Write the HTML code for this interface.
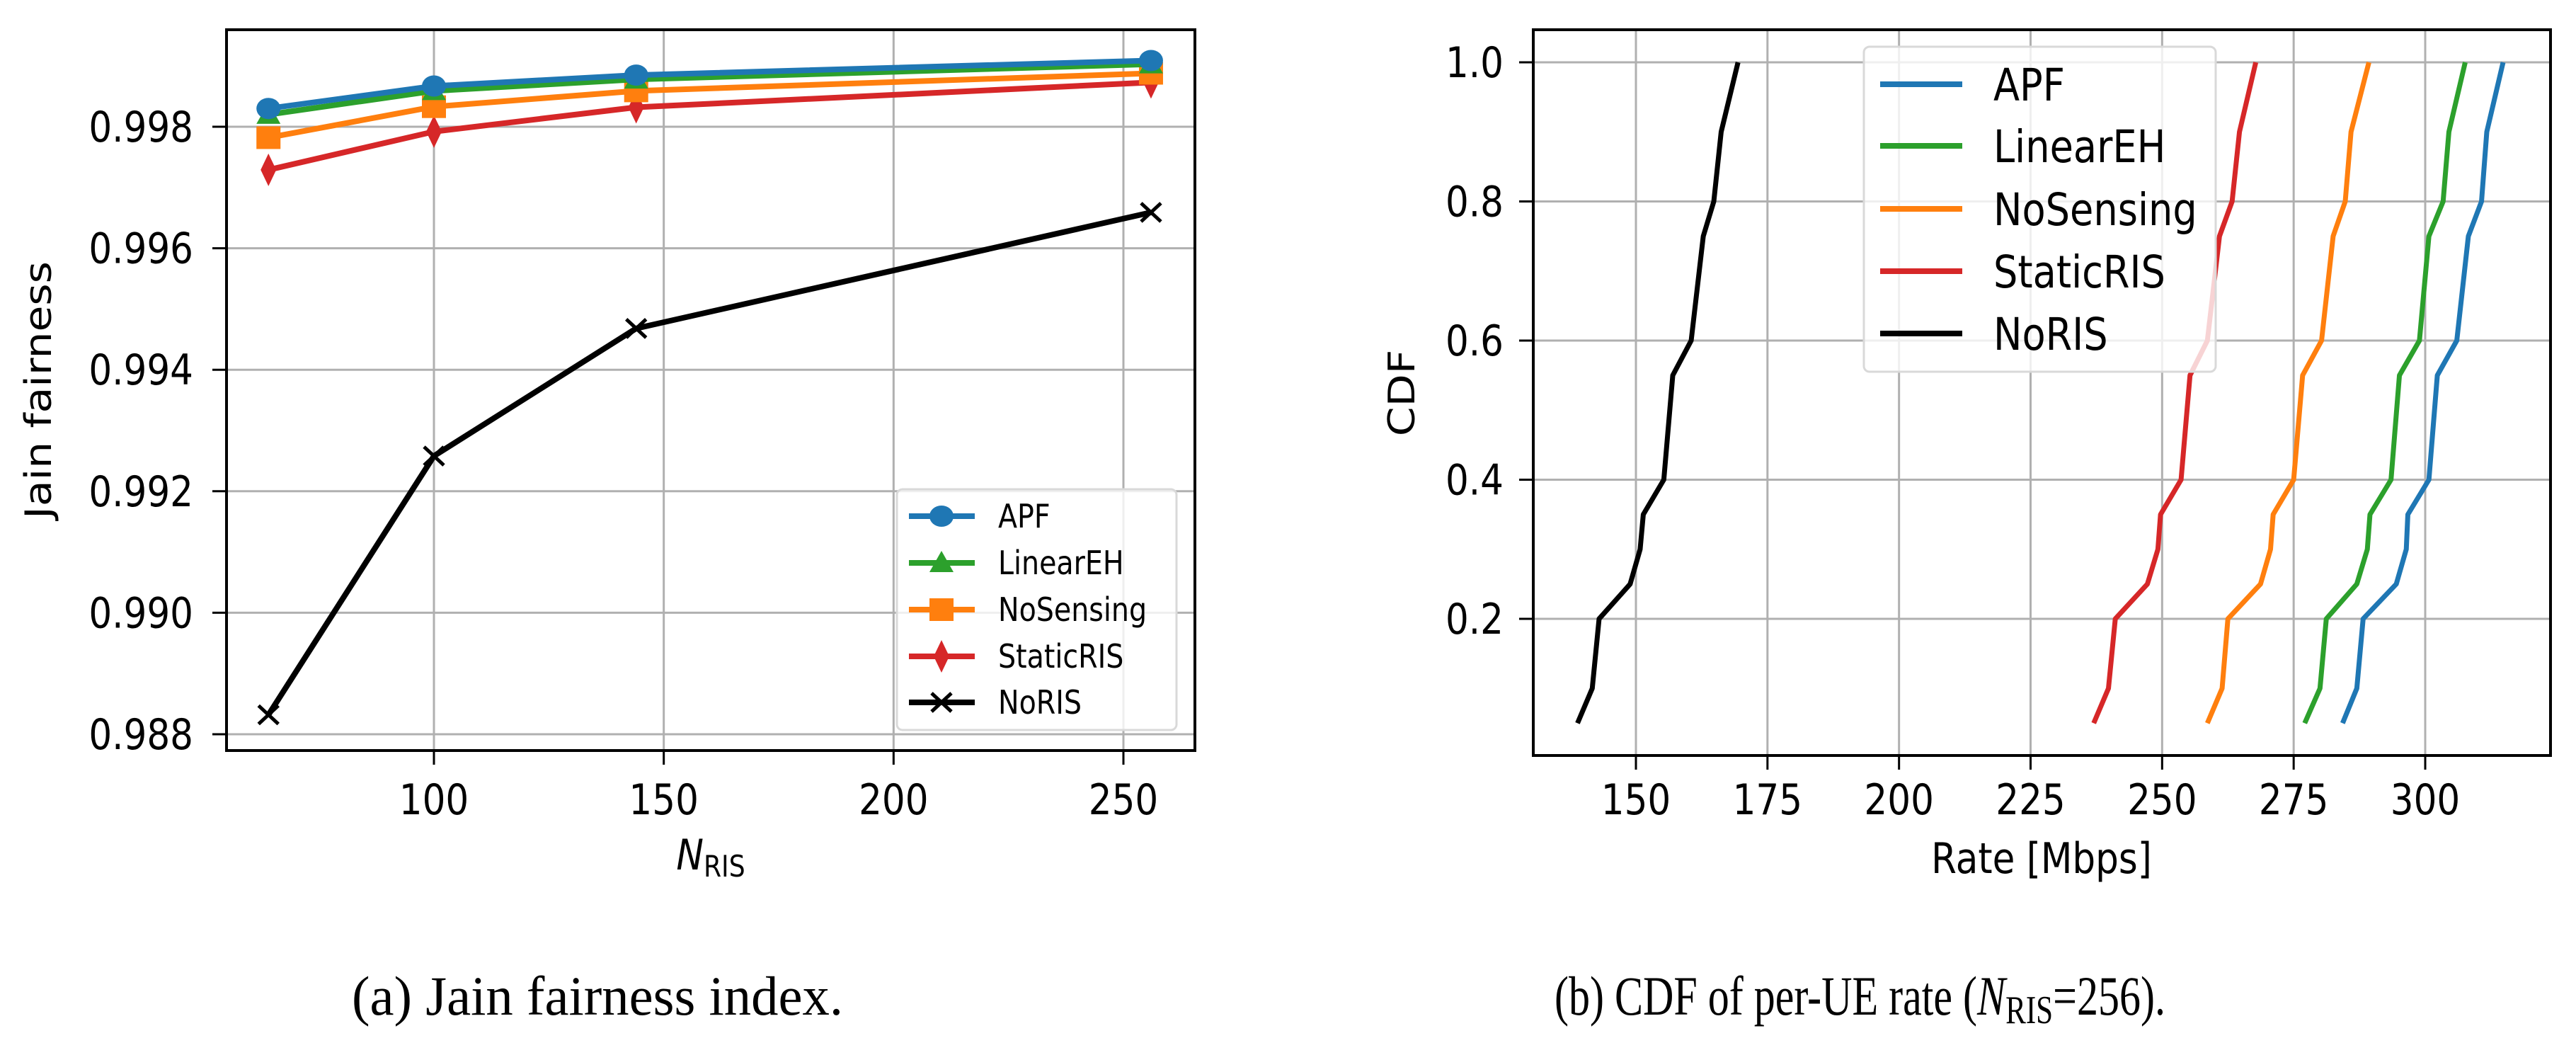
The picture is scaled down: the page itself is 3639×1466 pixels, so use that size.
<!DOCTYPE html>
<html><head><meta charset="utf-8"><style>
html,body{margin:0;padding:0;background:#fff;}
svg{display:block;}
text{font-family:"DejaVu Sans","Liberation Sans",sans-serif;fill:#000;}
.cap{font-family:"Liberation Serif",serif;}
</style></head><body>
<svg id="fig" width="3639" height="1466" viewBox="0 0 3639 1466" xmlns="http://www.w3.org/2000/svg">
<g id="left"></g>
<g id="right"></g>
<text class="cap" x="497" y="1433" font-size="78" textLength="694" lengthAdjust="spacingAndGlyphs">(a) Jain fairness index.</text>
<text class="cap" x="2196" y="1433" font-size="78" textLength="863" lengthAdjust="spacingAndGlyphs">(b) CDF of per-UE rate (<tspan font-style="italic">N</tspan><tspan font-size="56" dy="12">RIS</tspan><tspan dy="-12">=256).</tspan></text>
</svg>
<script>
// ---- Left chart data ----
const nRis = [64, 100, 144, 256];
const apfJain = [0.9983, 0.99867, 0.99885, 0.99909];
const linearJain = [0.9982, 0.99859, 0.99878, 0.99903];
const noSensJain = [0.99782, 0.99833, 0.99859, 0.99888];
const staticJain = [0.99729, 0.99792, 0.99832, 0.99873];
const noRisJain = [0.98832, 0.99258, 0.99468, 0.99659];
const leftXTicks = [100, 150, 200, 250];
const leftYTicks = [0.988, 0.990, 0.992, 0.994, 0.996, 0.998];
const leftYTickLabels = ["0.988", "0.990", "0.992", "0.994", "0.996", "0.998"];
const seriesNames = ["APF", "LinearEH", "NoSensing", "StaticRIS", "NoRIS"];
// ---- Right chart data ----
const cdfLevels = [0.05, 0.1, 0.2, 0.25, 0.3, 0.35, 0.4, 0.55, 0.6, 0.75, 0.8, 0.9, 1.0];
const apfRate = [284.3, 287.0, 288.2, 294.5, 296.4, 296.7, 300.7, 302.3, 306.0, 308.2, 310.7, 311.7, 314.8];
const linearRate = [277.1, 280.0, 281.2, 287.0, 289.0, 289.5, 293.5, 295.1, 298.9, 300.7, 303.4, 304.5, 307.6];
const noSensRate = [258.6, 261.4, 262.5, 268.7, 270.6, 271.1, 275.0, 276.7, 280.3, 282.5, 284.8, 285.9, 289.3];
const staticRate = [237.0, 239.8, 241.1, 247.2, 249.2, 249.7, 253.6, 255.3, 258.6, 260.9, 263.3, 264.7, 267.8];
const noRisRate = [138.9, 141.7, 143.0, 148.9, 150.8, 151.4, 155.3, 157.0, 160.5, 162.8, 164.8, 166.2, 169.4];
const rightXTicks = [150, 175, 200, 225, 250, 275, 300];
const rightYTicks = [0.2, 0.4, 0.6, 0.8, 1.0];
const rightYTickLabels = ["0.2", "0.4", "0.6", "0.8", "1.0"];

const NS = "http://www.w3.org/2000/svg";
const colors = ["#1f77b4", "#2ca02c", "#ff7f0e", "#d62728", "#000000"];
function mk(parent, tag, attrs) {
  const e = document.createElementNS(NS, tag);
  for (const k in attrs) e.setAttribute(k, attrs[k]);
  parent.appendChild(e);
  return e;
}
function txt(parent, x, y, s, size, anchor, sx) {
  const t = mk(parent, "text", {transform: `translate(${x},${y}) scale(${sx||0.86},1)`, "font-size": size, "text-anchor": anchor || "middle"});
  t.textContent = s;
  return t;
}

// ---------- LEFT ----------
const L = document.getElementById("left");
const lx = v => 613 + (v - 100) * (1587 - 613) / 150;
const ly = v => 179 + (0.998 - v) * 85800;
const LB = {l: 320, r: 1688, t: 42, b: 1060};
leftXTicks.forEach(v => {
  const g = mk(L, "line", {x1: lx(v), x2: lx(v), y1: LB.t, y2: LB.b, stroke: "#b0b0b0", "stroke-width": 3});
  
  
  mk(L, "line", {x1: lx(v), x2: lx(v), y1: LB.b, y2: LB.b + 20, stroke: "#000", "stroke-width": 3});
  const t = txt(L, lx(v), 1150, String(v), 60);
  
  
});
leftYTicks.forEach((v, i) => {
  const g = mk(L, "line", {x1: LB.l, x2: LB.r, y1: ly(v), y2: ly(v), stroke: "#b0b0b0", "stroke-width": 3});
  
  
  mk(L, "line", {x1: LB.l - 20, x2: LB.l, y1: ly(v), y2: ly(v), stroke: "#000", "stroke-width": 3});
  const t = txt(L, 273, ly(v) + 21, leftYTickLabels[i], 60, "end");
  
  
});
const leftSeries = [apfJain, linearJain, noSensJain, staticJain, noRisJain];
function marker(parent, kind, x, y, c) {
  let m;
  if (kind === 0) m = mk(parent, "ellipse", {cx: x, cy: y, rx: 17, ry: 15, fill: c});
  else if (kind === 1) m = mk(parent, "polygon", {points: `${x},${y-17} ${x+17},${y+13} ${x-17},${y+13}`, fill: c});
  else if (kind === 2) m = mk(parent, "rect", {x: x - 17, y: y - 16, width: 34, height: 32, fill: c});
  else if (kind === 3) m = mk(parent, "polygon", {points: `${x},${y-23} ${x+11},${y} ${x},${y+23} ${x-11},${y}`, fill: c});
  else {
    m = mk(parent, "path", {d: `M${x-14},${y-13}L${x+14},${y+13}M${x-14},${y+13}L${x+14},${y-13}`, stroke: c, "stroke-width": 5, fill: "none"});
  }
  return m;
}
for (let s = leftSeries.length - 1; s >= 0; s--) {
  const vals = leftSeries[s];
  const p = mk(L, "polyline", {points: nRis.map((n, i) => `${lx(n)},${ly(vals[i])}`).join(" "), fill: "none", stroke: colors[s], "stroke-width": 8, "stroke-linejoin": "round"});
  
  
  nRis.forEach((n, i) => {
    const m = marker(L, s, lx(n), ly(vals[i]), colors[s]);
    
    
  });
}
const lf = mk(L, "rect", {x: LB.l, y: LB.t, width: LB.r - LB.l, height: LB.b - LB.t, fill: "none", stroke: "#000", "stroke-width": 4});


const lleg = mk(L, "g", {});


mk(lleg, "rect", {x: 1267, y: 691, width: 395, height: 340, rx: 8, fill: "#fff", "fill-opacity": 0.8, stroke: "#d9d9d9", "stroke-width": 3});
const llegY = [729, 795, 861, 927, 992];
seriesNames.forEach((nm, s) => {
  const e = mk(lleg, "g", {});
  
  
  mk(e, "line", {x1: 1284, x2: 1377, y1: llegY[s], y2: llegY[s], stroke: colors[s], "stroke-width": 8});
  marker(e, s, 1330, llegY[s], colors[s]);
  txt(e, 1410, llegY[s] + 16, nm, 46, "start");
});
const ylab = mk(L, "text", {transform: "translate(72,551) rotate(-90) scale(1,0.86)", "font-size": 60, "text-anchor": "middle"});
ylab.textContent = "Jain fairness";


const xlab = mk(L, "text", {transform: "translate(1004,1228) scale(0.86,1)", "font-size": 60, "text-anchor": "middle"});
xlab.innerHTML = '<tspan font-style="italic">N</tspan><tspan font-size="42" dy="10">RIS</tspan>';



// ---------- RIGHT ----------
const R = document.getElementById("right");
const rx = v => 2311 + (v - 150) * (3426 - 2311) / 150;
const ry = v => 88 + (1.0 - v) * 982.5;
const RB = {l: 2166, r: 3603, t: 42, b: 1067};
rightXTicks.forEach(v => {
  const g = mk(R, "line", {x1: rx(v), x2: rx(v), y1: RB.t, y2: RB.b, stroke: "#b0b0b0", "stroke-width": 3});
  
  
  mk(R, "line", {x1: rx(v), x2: rx(v), y1: RB.b, y2: RB.b + 20, stroke: "#000", "stroke-width": 3});
  const t = txt(R, rx(v), 1150, String(v), 60);
  
  
});
rightYTicks.forEach((v, i) => {
  const g = mk(R, "line", {x1: RB.l, x2: RB.r, y1: ry(v), y2: ry(v), stroke: "#b0b0b0", "stroke-width": 3});
  
  
  mk(R, "line", {x1: RB.l - 20, x2: RB.l, y1: ry(v), y2: ry(v), stroke: "#000", "stroke-width": 3});
  const t = txt(R, 2124, ry(v) + 21, rightYTickLabels[i], 60, "end");
  
  
});
const rightSeries = [apfRate, linearRate, noSensRate, staticRate, noRisRate];
rightSeries.forEach((vals, s) => {
  const p = mk(R, "polyline", {points: cdfLevels.map((c, i) => `${rx(vals[i])},${ry(c)}`).join(" "), fill: "none", stroke: colors[s], "stroke-width": 7, "stroke-linejoin": "round"});
  
  
});
const rf = mk(R, "rect", {x: RB.l, y: RB.t, width: RB.r - RB.l, height: RB.b - RB.t, fill: "none", stroke: "#000", "stroke-width": 4});


const rleg = mk(R, "g", {});


mk(rleg, "rect", {x: 2633, y: 66, width: 497, height: 459, rx: 8, fill: "#fff", "fill-opacity": 0.8, stroke: "#d9d9d9", "stroke-width": 3});
const rlegY = [119, 206, 295, 383, 471];
seriesNames.forEach((nm, s) => {
  const e = mk(rleg, "g", {});
  
  
  mk(e, "line", {x1: 2656, x2: 2772, y1: rlegY[s], y2: rlegY[s], stroke: colors[s], "stroke-width": 8});
  txt(e, 2816, rlegY[s] + 23, nm, 63, "start");
});
const ylab2 = mk(R, "text", {transform: "translate(1998,555) rotate(-90) scale(1,0.86)", "font-size": 60, "text-anchor": "middle"});
ylab2.textContent = "CDF";


const xlab2 = txt(R, 2884, 1233, "Rate [Mbps]", 60);


</script>
</body></html>
